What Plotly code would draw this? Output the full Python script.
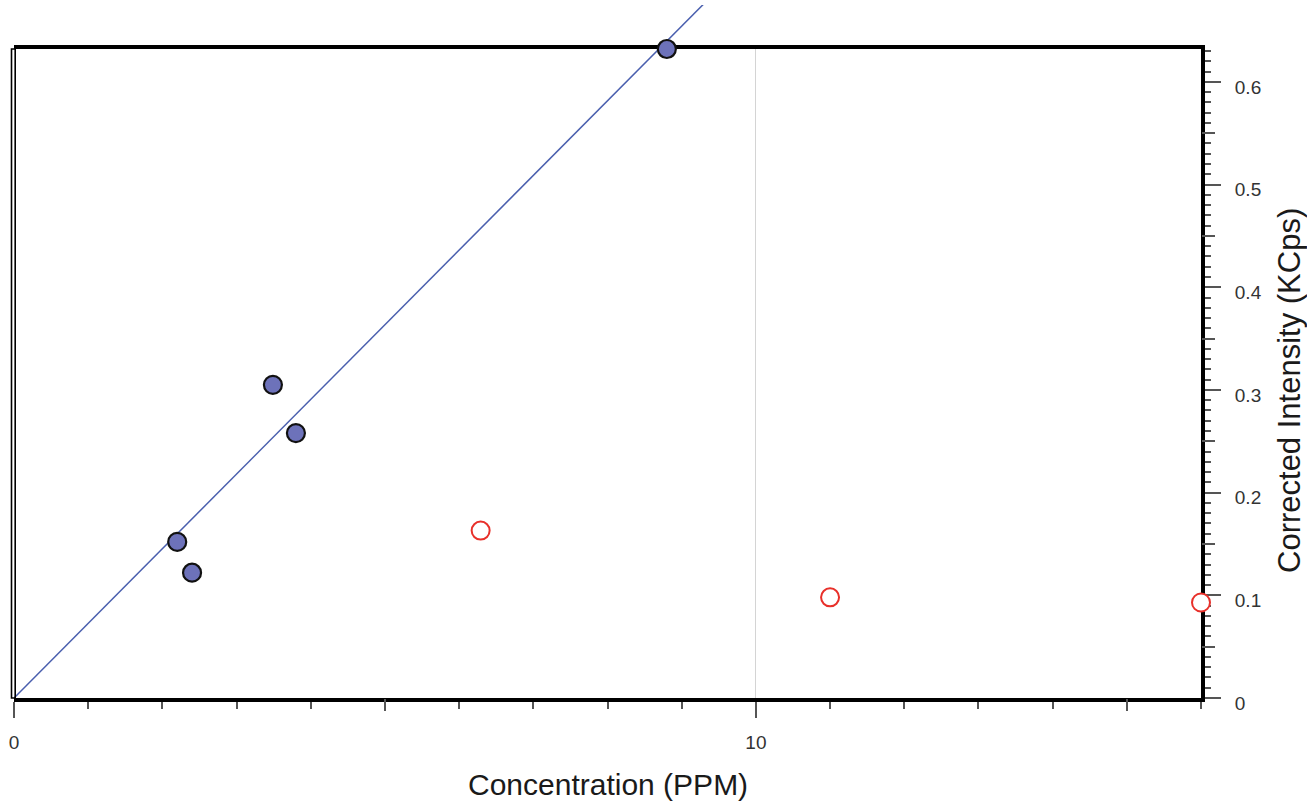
import plotly.graph_objects as go

# Calibration standards used in the fit (filled) and excluded standards (hollow)
conc_used = [2.20, 2.40, 3.49, 3.80, 8.80]
intensity_used = [0.152, 0.122, 0.305, 0.258, 0.632]
conc_excluded = [6.29, 11.0, 16.0]
intensity_excluded = [0.163, 0.098, 0.093]

# Linear calibration through the origin (KCps per PPM)
fit_slope = 0.0727
fit_x = [0, 10]

# Axis ticks
x_major_ticks = [0, 10]
x_major_labels = ["0", "10"]
x_mid_ticks = [5, 15]
y_major_ticks = [0, 0.1, 0.2, 0.3, 0.4, 0.5, 0.6]
y_major_labels = ["0", "0.1", "0.2", "0.3", "0.4", "0.5", "0.6"]
y_mid_ticks = [0.05, 0.15, 0.25, 0.35, 0.45, 0.55]

X_RANGE = [0, 16]
Y_RANGE = [0, 0.632]
FRAME_TOP = 0.9365  # fraction of the plot height taken by the framed axes

FONT = "Liberation Sans, Arial, sans-serif"
TICK_COLOR = "#555555"
LABEL_COLOR = "#333333"

fit_y = [fit_slope * v for v in fit_x]

fig = go.Figure()

# Empty traces register the framed axes and the extra tick layers
for xa, ya in (("x", "y"), ("x3", "y"), ("x", "y3")):
    fig.add_trace(go.Scatter(x=[], y=[], xaxis=xa, yaxis=ya,
                             showlegend=False, hoverinfo="skip"))

# The fit line and markers live on a taller, hidden axis pair so the line can
# run past the top of the frame while sharing the same data scale.
fig.add_trace(go.Scatter(
    x=fit_x, y=fit_y, mode="lines",
    line=dict(color="#4a5fae", width=1.5),
    xaxis="x2", yaxis="y2", hoverinfo="skip", showlegend=False,
))
fig.add_trace(go.Scatter(
    x=conc_excluded, y=intensity_excluded, mode="markers",
    marker=dict(size=18, color="white", line=dict(color="#e8302a", width=2)),
    xaxis="x2", yaxis="y2", cliponaxis=False, showlegend=False,
))
fig.add_trace(go.Scatter(
    x=conc_used, y=intensity_used, mode="markers",
    marker=dict(size=18, color="#6d72ba", line=dict(color="#111111", width=2.2)),
    xaxis="x2", yaxis="y2", cliponaxis=False, showlegend=False,
))

# Left frame edge drawn as a thin double rule
fig.add_shape(
    type="rect", xref="paper", yref="paper",
    x0=-2.5 / 1187, x1=1.2 / 1187, y0=0, y1=FRAME_TOP,
    line=dict(color="black", width=1.6), fillcolor="rgba(0,0,0,0)", layer="above",
)

fig.update_layout(
    width=1307, height=801,
    margin=dict(l=14, r=106, t=5, b=103),
    paper_bgcolor="white", plot_bgcolor="rgba(0,0,0,0)",
    font=dict(family=FONT, color=LABEL_COLOR),
    showlegend=False,
    xaxis=dict(
        range=X_RANGE, anchor="y", domain=[0, 1],
        showline=True, linecolor="black", linewidth=4, mirror=True,
        tickmode="array", tickvals=x_major_ticks, ticktext=x_major_labels,
        ticks="outside", ticklen=16, tickwidth=1.5, tickcolor=TICK_COLOR,
        tickfont=dict(size=19, color=LABEL_COLOR, family=FONT),
        ticklabelstandoff=8,
        showgrid=True, gridcolor="#d4d4d4", gridwidth=1,
        zeroline=False,
        minor=dict(dtick=1, ticks="outside", ticklen=7, tickwidth=1.5,
                   tickcolor=TICK_COLOR, showgrid=False),
    ),
    yaxis=dict(
        range=Y_RANGE, anchor="x", domain=[0, FRAME_TOP], side="right",
        showline=True, linecolor="black", linewidth=4, mirror=False,
        tickmode="array", tickvals=y_major_ticks, ticktext=y_major_labels,
        ticks="outside", ticklen=16, tickwidth=1.5, tickcolor=TICK_COLOR,
        tickfont=dict(size=19, color=LABEL_COLOR, family=FONT),
        ticklabelstandoff=10, ticklabelshift=5,
        showgrid=False, zeroline=False,
        minor=dict(dtick=0.01, ticks="outside", ticklen=6, tickwidth=1.5,
                   tickcolor=TICK_COLOR, showgrid=False),
    ),
    xaxis3=dict(
        range=X_RANGE, overlaying="x", anchor="y", side="bottom",
        tickmode="array", tickvals=x_mid_ticks, showticklabels=False,
        ticks="outside", ticklen=12, tickwidth=1.5, tickcolor=TICK_COLOR,
        showline=False, showgrid=False, zeroline=False,
    ),
    yaxis3=dict(
        range=Y_RANGE, overlaying="y", anchor="x", side="right",
        tickmode="array", tickvals=y_mid_ticks, showticklabels=False,
        ticks="outside", ticklen=13, tickwidth=1.5, tickcolor=TICK_COLOR,
        showline=False, showgrid=False, zeroline=False,
    ),
    xaxis2=dict(range=X_RANGE, domain=[0, 1], anchor="y2", visible=False),
    yaxis2=dict(range=[0, Y_RANGE[1] / FRAME_TOP], domain=[0, 1],
                anchor="x2", visible=False),
    annotations=[
        dict(text="Concentration (PPM)", xref="paper", yref="paper",
             x=0.5, y=-86 / 693, xanchor="center", yanchor="middle",
             showarrow=False, font=dict(size=30, color="#1a1a1a", family=FONT)),
        dict(text="Corrected Intensity (KCps)", xref="paper", yref="paper",
             x=(1290 - 14) / 1187, y=(698 - 391) / 693, textangle=-90,
             xanchor="center", yanchor="middle",
             showarrow=False, font=dict(size=31, color="#1a1a1a", family=FONT)),
    ],
)

fig.write_html("out.html")
